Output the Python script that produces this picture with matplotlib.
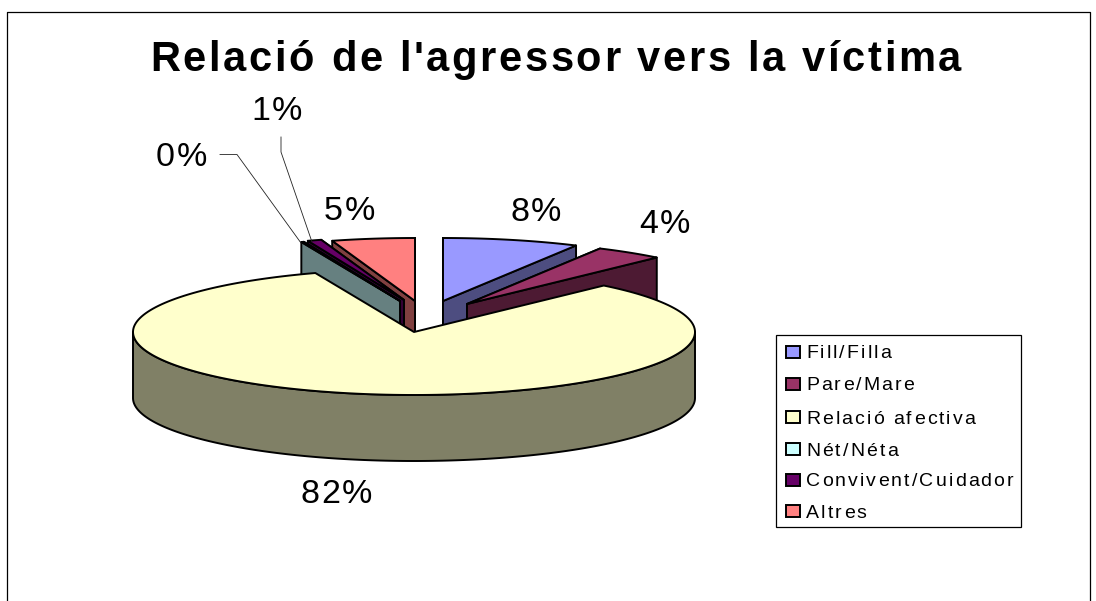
import numpy as np
import matplotlib
matplotlib.use("Agg")
import matplotlib.pyplot as plt
from matplotlib.font_manager import findfont, get_font
from matplotlib.ft2font import LoadFlags
from matplotlib.patches import Polygon, Rectangle
from matplotlib.text import Text

# data
categories = ["Fill/Filla", "Pare/Mare", "Relació afectiva", "Nét/Néta", "Convivent/Cuidador", "Altres"]
values = [7.85, 3.95, 82.49, 0.15, 0.8, 4.76]
colors = ["#9999FF", "#993366", "#FFFFCC", "#CCFFFF", "#660066", "#FF8080"]
title = "Relació de l'agressor vers la víctima"

# layout, in pixels of the 1096x601 image
cx, cy = 414, 332
rx, ry = 281, 63
depth = 66
offset_x = [29, 53, 0, -14, -10, 1]
offset_y = [-31, -28, 0, -31, -32, -31]
draw_order = [0, 1, 5, 4, 3, 2]
label_x = [510, 639, 300, 156, 251, 324]
label_y = [221, 233, 503, 166, 120, 220]
legend_y = [352, 384, 417, 449, 480, 511]


class SpacedText(Text):
    # keeps the whole string but draws it with letter spacing, like the original
    def __init__(self, x, y, text, spacing=0, **kw):
        super().__init__(x, y, text, **kw)
        self.spacing = spacing

    def draw(self, renderer):
        prop = self.get_fontproperties()
        font = get_font(findfont(prop))
        font.set_size(prop.get_size_in_points(), self.figure.dpi)
        gc = renderer.new_gc()
        gc.set_foreground(self.get_color())
        gc.set_antialiased(True)
        px, py = self.get_transform().transform(self.get_position())
        if renderer.flipy():
            py = renderer.height - py
        for ch in self.get_text():
            renderer.draw_text(gc, px, py, ch, prop, 0, ismath=False)
            glyph = font.load_char(ord(ch), flags=LoadFlags.NO_HINTING)
            px += glyph.linearHoriAdvance / 65536 + self.spacing
        gc.restore()


def add_text(x, y, s, size, spacing, weight="normal"):
    t = SpacedText(x, y, s, spacing=spacing, fontsize=size, fontweight=weight,
                   family="Liberation Sans", color="black", ha="left", va="baseline")
    ax.add_artist(t)


def arc(x0, y0, t0, t1):
    t = np.radians(np.linspace(t0, t1, 200))
    return np.column_stack([x0 + rx * np.sin(t), y0 - ry * np.cos(t)])


def poly(pts, color):
    ax.add_patch(Polygon(pts, closed=True, facecolor=color, edgecolor="black", linewidth=1.4, joinstyle="round"))


def dark(color):
    return tuple(c * 0.5 for c in matplotlib.colors.to_rgb(color))


def main():
    global ax
    fig = plt.figure(figsize=(10.96, 6.01), dpi=100)
    ax = fig.add_axes([0, 0, 1, 1])
    ax.set_xlim(0, 1096)
    ax.set_ylim(601, 0)
    ax.axis("off")

    # chart frame, bottom runs off the image
    ax.plot([6.5, 6.5, 1089.5, 1089.5], [605, 12, 12, 605], color="black", lw=0.9)

    ends = np.cumsum(values) / np.sum(values) * 360
    starts = np.r_[0, ends[:-1]]

    for i in draw_order:
        x0, y0 = cx + offset_x[i], cy + offset_y[i]
        a0, a1 = starts[i], ends[i]
        side = dark(colors[i])
        apex = np.array([x0, y0])
        down = np.array([0, depth])
        p0 = arc(x0, y0, a0, a0)[0]
        p1 = arc(x0, y0, a1, a1)[0]
        if i != 2:
            # cut faces, the one facing away first
            faces = [p0, p1] if a1 < 180 else [p1, p0]
            for p in faces:
                poly([apex, p, p + down, apex + down], side)
        lo, hi = max(a0, 90), min(a1, 270)
        if lo < hi:
            rim = arc(x0, y0, lo, hi)
            poly(np.vstack([rim, rim[::-1] + down]), side)
        poly(np.vstack([apex, arc(x0, y0, a0, a1)]), colors[i])

    # leader lines for the two small slices
    ax.plot([220, 237, 301], [154.5, 154.5, 243], color="#222222", lw=0.6)
    ax.plot([281, 281, 312], [137, 152, 242], color="#222222", lw=0.6)

    for i, v in enumerate(values):
        add_text(label_x[i], label_y[i], f"{round(v)}%", 24.5, 2)

    add_text(150, 71, title, 30, 2.65, weight="bold")

    # legend
    ax.add_patch(Rectangle((776, 335), 245, 192, facecolor="white", edgecolor="black", linewidth=0.9))
    for i, name in enumerate(categories):
        ax.add_patch(Rectangle((786, legend_y[i] - 6), 14, 12, facecolor=colors[i], edgecolor="black", linewidth=1.4))
        add_text(806, legend_y[i] + 6.5, name, 14, 2.1)

    fig.savefig("out.png", dpi=100)


if __name__ == "__main__":
    main()
